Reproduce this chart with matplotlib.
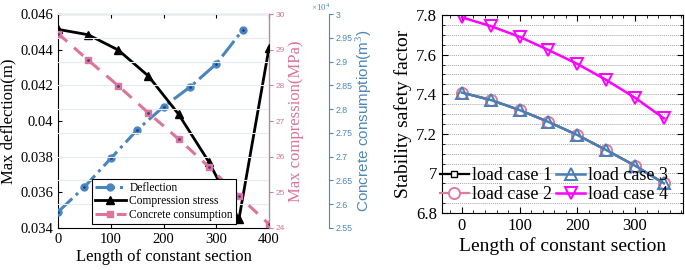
import matplotlib
matplotlib.use('Agg')
import matplotlib.pyplot as plt
from matplotlib.ticker import FuncFormatter, MultipleLocator

# ---- left panel data ----
defl_x = [0, 50, 100, 150, 200, 250, 300, 350]
defl_m = [0.0349, 0.0363, 0.0379, 0.0395, 0.0408, 0.0419, 0.0432, 0.0451]
sec_x = [0, 57.1, 114.3, 171.4, 228.6, 285.7, 342.9, 400]
comp_mpa = [29.57, 29.42, 28.99, 28.26, 27.19, 25.86, 24.24, 29.05]
conc_m3 = [29590, 29030, 28490, 27920, 27370, 26790, 26170, 25580]

# ---- right panel data ----
len_x = [0, 50, 100, 150, 200, 250, 300, 350]
case1 = [7.408, 7.371, 7.320, 7.260, 7.194, 7.118, 7.039, 6.950]
case2 = [7.408, 7.371, 7.320, 7.260, 7.194, 7.118, 7.039, 6.950]
case3 = [7.408, 7.371, 7.320, 7.260, 7.194, 7.118, 7.039, 6.950]
case4 = [7.788, 7.744, 7.690, 7.623, 7.553, 7.472, 7.382, 7.278]

SERIF = 'Liberation Serif'
SANS = 'Liberation Sans'
BLUE = '#4a86be'
PINK = '#dc7599'
AXBLUE = '#4f87b8'
AXPINK = '#d9759a'

plt.rcParams['font.family'] = SERIF
plt.rcParams['mathtext.fontset'] = 'custom'
plt.rcParams['mathtext.rm'] = SERIF

fig = plt.figure(figsize=(6.85, 2.7), dpi=100)

# ---------------- left panel ----------------
ax1 = fig.add_axes([0.0847, 0.1556, 0.308, 0.7924])
ax2 = ax1.twinx()
ax3 = ax1.twinx()
ax3.spines['right'].set_position(('outward', 43))

ax3.set_ylim(25500, 30000)
ax3.set_yticks([25500 + 500 * i for i in range(10)])
ax3.yaxis.set_major_formatter(FuncFormatter(lambda v, _: f'{v/1e4:g}'))
ax3.grid(True, axis='y', color='#e4ebf3', lw=0.8)
ax3.set_axisbelow(True)

l1, = ax1.plot(defl_x, defl_m, '-.', color=BLUE, lw=2.2, marker='o', ms=5,
               mfc=BLUE, mec=BLUE, zorder=3)
ax1.plot(defl_x, defl_m, '.', color='#1c3f9c', ms=2, zorder=4)
l2, = ax2.plot(sec_x, comp_mpa, '-', color='black', lw=2, marker='^', ms=6,
               mfc='black', mec='black', zorder=3)
l3, = ax3.plot(sec_x, conc_m3, '--', color=PINK, lw=2.2, marker='s', ms=5,
               mfc=PINK, mec=PINK, dashes=(4, 3), zorder=3)
ax3.plot(sec_x, conc_m3, '.', color='#3b3f9c', ms=2, zorder=4)

ax1.set_xlim(0, 400)
ax1.set_ylim(0.034, 0.046)
ax1.set_xticks([0, 100, 200, 300, 400])
ax1.set_yticks([0.034, 0.036, 0.038, 0.04, 0.042, 0.044, 0.046])
ax1.yaxis.set_major_formatter(FuncFormatter(lambda v, _: f'{v:g}'))
ax1.tick_params(direction='in', top=True, labelsize=10.5, length=3)
ax1.set_xlabel('Length of constant section', fontsize=12, labelpad=2)
ax1.set_ylabel('Max deflection(m)', fontsize=12, labelpad=3)

ax2.set_ylim(24, 30)
ax2.set_yticks([24, 25, 26, 27, 28, 29, 30])
ax2.spines['right'].set_color(AXPINK)
ax2.tick_params(axis='y', colors=AXPINK, labelsize=6, length=3, direction='out', pad=2)
for t in ax2.get_yticklabels():
    t.set_family(SANS)
ax2.set_ylabel('Max compression(MPa)', fontsize=12, color=AXPINK, labelpad=2)

ax3.spines['right'].set_color(AXBLUE)
ax3.tick_params(axis='y', colors=AXBLUE, labelsize=6.3, length=3, direction='out', pad=2)
for t in ax3.get_yticklabels():
    t.set_family(SANS)
ax3.set_ylabel('Concrete consumption(m$^3$)', fontsize=11, color=AXBLUE,
               family=SANS, labelpad=1)
ax3.text(1.2, 1.004, r'$\times10^4$', transform=ax3.transAxes, color=AXBLUE,
         fontsize=6.5, family=SANS, ha='left', va='bottom')
for s in ('left', 'top', 'bottom'):
    ax3.spines[s].set_visible(False)
    ax2.spines[s].set_visible(False)

leg = ax3.legend([l1, l2, l3], ['Deflection', 'Compression stress', 'Concrete consumption'],
                 loc='upper left', bbox_to_anchor=(0.16, 0.23), fontsize=8.3,
                 frameon=True, fancybox=False, edgecolor='black', framealpha=1,
                 handlelength=2.7, handletextpad=0.3, borderpad=0.25,
                 labelspacing=0.15, borderaxespad=0)
leg.get_frame().set_linewidth(0.8)

# ---------------- right panel ----------------
bx = fig.add_axes([0.6448, 0.2111, 0.3522, 0.7333])
bx.plot(len_x, case1, '-', color='black', lw=1.6, marker='s', ms=5,
        mfc='white', mec='black', label='load case 1')
bx.plot(len_x, case2, '-', color='#e07b9b', lw=1.6, marker='o', ms=8,
        mfc='white', mec='#e07b9b', mew=1.4, label='load case 2')
bx.plot(len_x, case3, '-', color='#4a7fb5', lw=1.8, marker='^', ms=8,
        mfc='none', mec='#4a7fb5', mew=1.4, label='load case 3')
bx.plot(len_x, case4, '-', color='#ff00ff', lw=1.8, marker='v', ms=8,
        mfc='none', mec='#ff00ff', mew=1.4, label='load case 4')

bx.set_xlim(-35, 383)
bx.set_ylim(6.8, 7.8)
bx.set_xticks([0, 100, 200, 300])
bx.set_yticks([6.8, 7.0, 7.2, 7.4, 7.6, 7.8])
bx.yaxis.set_major_formatter(FuncFormatter(lambda v, _: f'{v:g}'))
bx.xaxis.set_minor_locator(MultipleLocator(20))
bx.yaxis.set_minor_locator(MultipleLocator(0.05))
bx.tick_params(which='both', direction='in', top=True, right=True, labelsize=12)
bx.tick_params(which='major', length=4)
bx.tick_params(which='minor', length=2)
bx.grid(True, which='both', axis='y', color='#a8a8a8', ls=(0, (1, 1)), lw=0.7)
bx.set_axisbelow(True)
bx.set_xlabel('Length of constant section', fontsize=14, labelpad=2)
bx.set_ylabel('Stability safety factor', fontsize=14, labelpad=3)
bx.legend(loc='lower left', bbox_to_anchor=(-0.007, 0.05), ncol=2, fontsize=13,
          frameon=False, handlelength=1.6, handletextpad=0.15, columnspacing=0.25,
          labelspacing=0.1, borderaxespad=0, borderpad=0)

fig.savefig('out.png', dpi=100)
